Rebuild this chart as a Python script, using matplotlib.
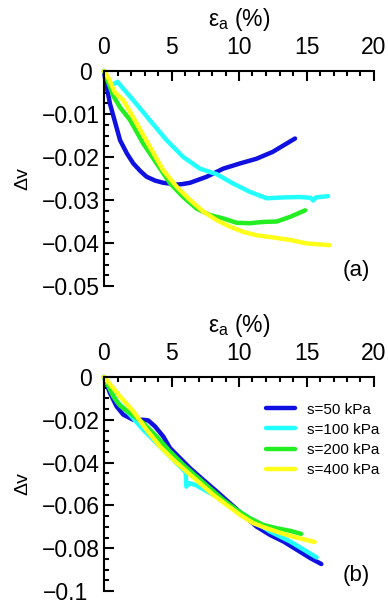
import matplotlib
matplotlib.use('Agg')
import matplotlib.pyplot as plt
from matplotlib.ticker import MultipleLocator, FuncFormatter
from matplotlib.transforms import ScaledTranslation

plt.rcParams['font.family'] = ['Liberation Sans', 'DejaVu Sans']

# colours
c_blue = '#1010e0'
c_cyan = '#22ffff'
c_green = '#22ee22'
c_yellow = '#ffff1a'

labels = ['s=50 kPa', 's=100 kPa', 's=200 kPa', 's=400 kPa']

# ---- panel (a) data: axial strain (%) vs volume change ----
a50_x = [0, 0.07, 0.44, 1.19, 1.7, 2.17, 2.7, 3.16, 3.8, 4.39, 5.4, 5.8, 6.37, 7.6, 8.84, 10.07,
         11.3, 12.5, 14.15]
a50_y = [0, -0.0015, -0.0076, -0.0161, -0.0192, -0.0215, -0.0233, -0.0246, -0.0255, -0.0260,
         -0.0264, -0.0263, -0.0260, -0.0246, -0.0227, -0.0215, -0.0204, -0.0188, -0.0157]

a100_x = [0, 0.5, 1.0, 1.4, 2.17, 3.41, 4.64, 5.87, 7.1, 8.35, 9.58, 10.8, 12.05, 13.3, 14.5,
          15.3, 15.5, 15.7, 16.6]
a100_y = [0, -0.0035, -0.0025, -0.0040, -0.0068, -0.0115, -0.0161, -0.0200, -0.0227, -0.0240,
          -0.0262, -0.0281, -0.0296, -0.0294, -0.0293, -0.0295, -0.0301, -0.0294, -0.0291]

a200_x = [0, 0.69, 1.2, 1.93, 2.91, 3.9, 4.89, 5.87, 6.86, 7.85, 8.84, 9.83, 10.8, 11.8, 12.8,
          13.8, 14.9]
a200_y = [0, -0.0058, -0.0085, -0.0114, -0.0169, -0.0215, -0.0261, -0.0293, -0.0320, -0.0335,
          -0.0343, -0.0353, -0.0354, -0.0351, -0.0350, -0.0339, -0.0324]

a400_x = [0, 0.3, 0.81, 1.43, 2.42, 3.41, 4.39, 5.38, 6.37, 7.36, 8.35, 9.33, 10.3, 11.3, 12.5,
          13.8, 15.0, 16.7]
a400_y = [0, -0.0015, -0.0050, -0.0068, -0.0122, -0.0177, -0.0231, -0.0269, -0.0300, -0.0327,
          -0.0347, -0.0362, -0.0374, -0.0382, -0.0387, -0.0393, -0.0401, -0.0405]

# ---- panel (b) data ----
b50_x = [0, 0.44, 0.94, 1.43, 2.17, 2.91, 3.28, 3.78, 4.39, 4.89, 5.63, 6.37, 7.36, 8.35, 9.33,
         10.3, 11.3, 12.3, 13.3, 14.3, 15.3, 16.1]
b50_y = [0, -0.0075, -0.0138, -0.0176, -0.0200, -0.0200, -0.0203, -0.0231, -0.0278, -0.0332,
         -0.0379, -0.0426, -0.0481, -0.0535, -0.0590, -0.0644, -0.0699, -0.0738, -0.0769,
         -0.0808, -0.0847, -0.0874]

b100_x = [0, 0.94, 1.93, 2.91, 3.9, 4.89, 5.87, 6.05, 6.1, 6.3, 6.8, 7.5, 8.5, 9.5, 10.6, 12.3,
          13.8, 15.75]
b100_y = [0, -0.0114, -0.0176, -0.0247, -0.0309, -0.0372, -0.0434, -0.0445, -0.0512, -0.0496,
          -0.0505, -0.0530, -0.0565, -0.0610, -0.0652, -0.0722, -0.0769, -0.0843]

b200_x = [0, 0.69, 1.19, 1.93, 2.91, 3.9, 4.89, 5.87, 6.86, 7.85, 8.84, 9.83, 10.8, 11.8, 12.8,
          13.8, 14.6]
b200_y = [0, -0.0091, -0.0134, -0.0169, -0.0215, -0.0278, -0.0348, -0.0410, -0.0465, -0.0520,
          -0.0574, -0.0621, -0.0660, -0.0691, -0.0707, -0.0719, -0.0733]

b400_x = [0, 1.19, 2.17, 3.16, 4.15, 5.14, 6.12, 7.1, 8.1, 9.09, 10.07, 11.06, 12.05, 13.0, 14.0,
          15.6]
b400_y = [0, -0.0091, -0.0161, -0.0247, -0.0325, -0.0387, -0.0442, -0.0496, -0.0551, -0.0598,
          -0.0644, -0.0683, -0.0707, -0.0727, -0.0746, -0.0771]

series_a = [(a50_x, a50_y, c_blue), (a100_x, a100_y, c_cyan),
            (a200_x, a200_y, c_green), (a400_x, a400_y, c_yellow)]
series_b = [(b50_x, b50_y, c_blue), (b100_x, b100_y, c_cyan),
            (b200_x, b200_y, c_green), (b400_x, b400_y, c_yellow)]

fig = plt.figure(figsize=(3.88, 6.04), dpi=100, facecolor='white')
ax_a = fig.add_axes([104/388, 1 - 286/604, 270/388, 215/604])
ax_b = fig.add_axes([104/388, 1 - 591/604, 270/388, 214/604])


def minus_fmt(v, pos):
    v = round(v, 6)
    if abs(v) < 1e-9:
        return '0'
    return ('%g' % v).replace('-', '\u2212')


def style_axes(ax, ymin, ymajor, yminor, tag):
    ax.set_xlim(0, 20)
    ax.set_ylim(ymin, 0)
    for side in ['right', 'bottom']:
        ax.spines[side].set_visible(False)
    for side in ['left', 'top']:
        ax.spines[side].set_linewidth(1.5)
    ax.xaxis.tick_top()
    ax.xaxis.set_label_position('top')
    ax.xaxis.set_major_locator(MultipleLocator(5))
    ax.xaxis.set_minor_locator(MultipleLocator(1))
    ax.yaxis.set_major_locator(MultipleLocator(ymajor))
    ax.yaxis.set_minor_locator(MultipleLocator(yminor))
    ax.yaxis.set_major_formatter(FuncFormatter(minus_fmt))
    ax.tick_params(which='major', direction='in', length=7.5, width=1.5, labelsize=16.5)
    ax.tick_params(which='minor', direction='in', length=3.8, width=1.5)
    ax.tick_params(axis='x', which='major', pad=9)
    ax.tick_params(axis='y', which='major', pad=3)
    ax.set_xlabel('\u03b5$_\\mathregular{a}$ (%)', fontsize=16.5)
    ax.xaxis.set_label_coords(0.5, 1 + 45/215)
    ax.set_ylabel('\u0394v', fontsize=14)
    ax.yaxis.set_label_coords(-0.27, 0.5)
    ax.text(0.935, 0.025, tag, transform=ax.transAxes, fontsize=16,
            ha='center', va='bottom')
    ax.patch.set_alpha(0)


style_axes(ax_a, -0.05, 0.01, 0.0025, '(a)')
style_axes(ax_b, -0.1, 0.02, 0.005, '(b)')

for x, y, c in series_a:
    ax_a.plot(x, y, color=c, lw=3.2, solid_capstyle='round', clip_on=False)
for (x, y, c), lab in zip(series_b, labels):
    ax_b.plot(x, y, color=c, lw=3.2, solid_capstyle='round', clip_on=False, label=lab)

ax_b.legend(loc='upper left', bbox_to_anchor=(0.6, 0.88), frameon=False, fontsize=11,
            handlelength=1.9, handletextpad=0.8, labelspacing=0.4, borderpad=0,
            borderaxespad=0)

# nudge some y tick labels like the original
fig.canvas.draw()
for ax, special in [(ax_a, {'0': -8}), (ax_b, {'0': -8, '\u22120.1': -12})]:
    for lbl in ax.get_yticklabels():
        t = lbl.get_text()
        if t in special:
            lbl.set_transform(lbl.get_transform() +
                              ScaledTranslation(special[t] / 100, 0, fig.dpi_scale_trans))

fig.savefig('out.png', dpi=100, facecolor='white')
plt.close(fig)
